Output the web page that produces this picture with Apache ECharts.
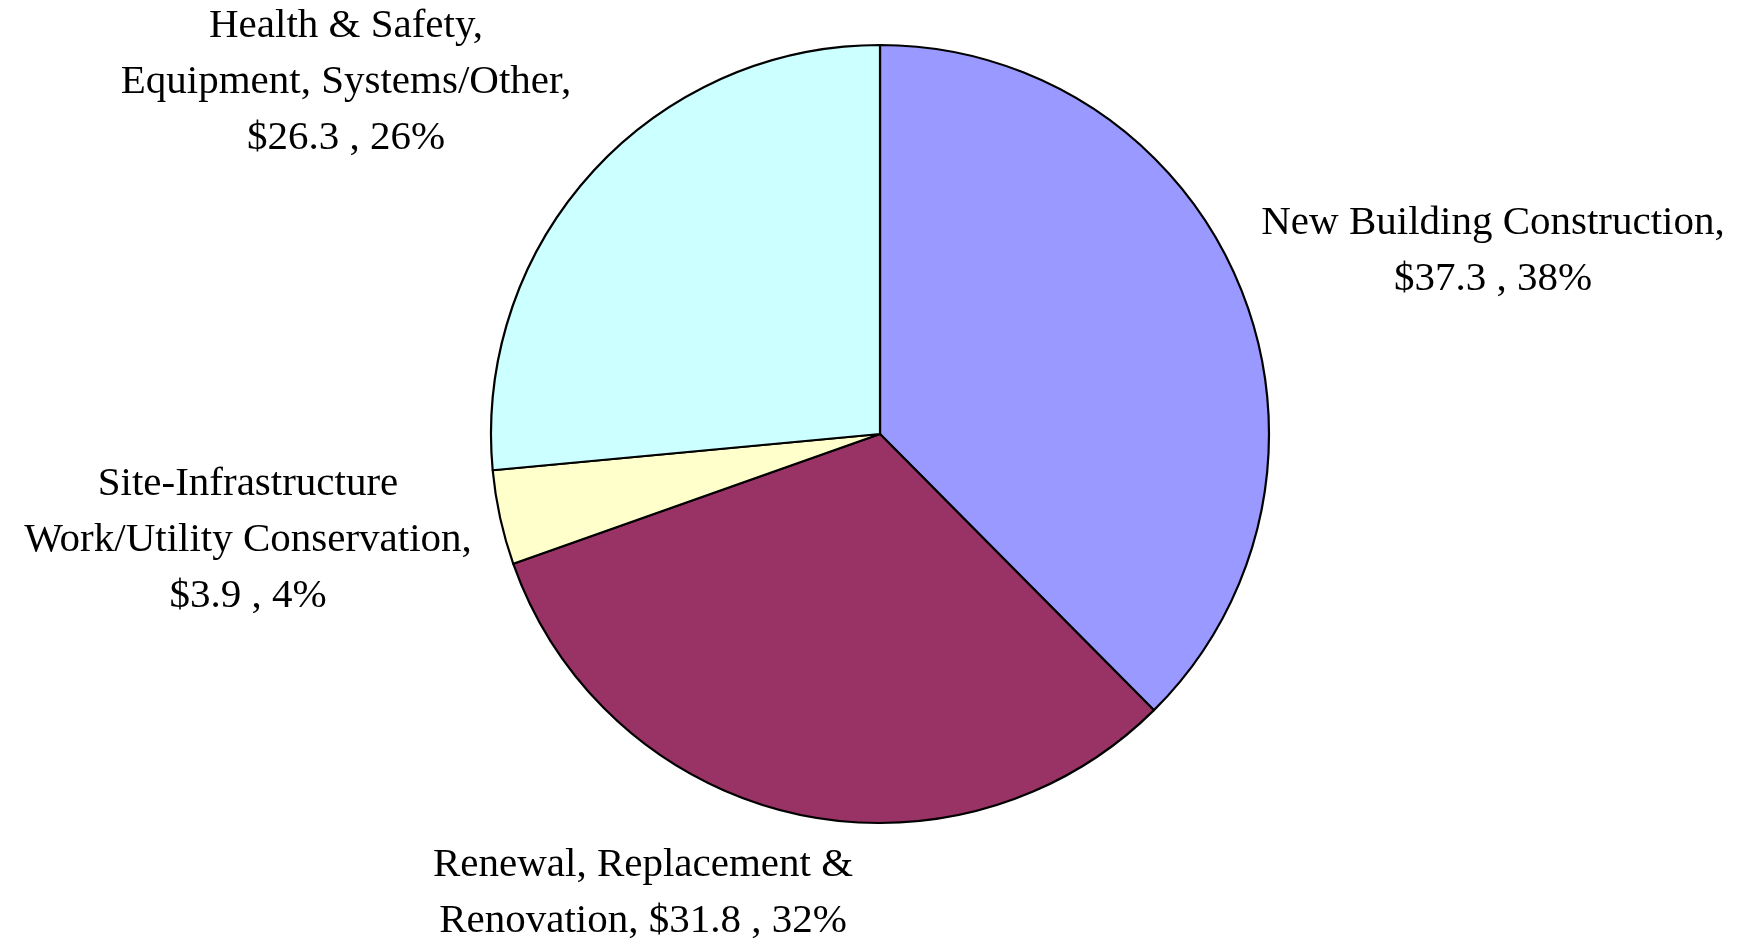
<!DOCTYPE html>
<html>
<head>
<meta charset="utf-8">
<script src="https://cdn.jsdelivr.net/npm/echarts@6/dist/echarts.min.js"></script>
<style>
  html, body { margin: 0; padding: 0; background: #ffffff; }
  #chart { width: 1746px; height: 939px; }
</style>
</head>
<body>
<div id="chart"></div>
<script>
// Data
const categories = [
  'New Building Construction,',
  'Renewal, Replacement &\nRenovation,',
  'Site-Infrastructure\nWork/Utility Conservation,',
  'Health & Safety,\nEquipment, Systems/Other,'
];
const values = [37.3, 31.8, 3.9, 26.3];
const colors = ['#9999FF', '#993366', '#FFFFCC', '#CCFFFF'];
const valueSeparator = ['\n', ' ', '\n', '\n'];

// Label layout (centers of label blocks, px)
const labelPos = [[1493, 251], [643, 893], [248, 540], [346, 82]];

const chart = echarts.init(document.getElementById('chart'), null, { renderer: 'canvas' });

chart.setOption({
  animation: false,
  backgroundColor: '#ffffff',
  series: [{
    type: 'pie',
    center: [880, 434],
    radius: [0, 389],
    startAngle: 90,
    clockwise: true,
    avoidLabelOverlap: false,
    data: categories.map((c, i) => ({
      name: c,
      value: values[i],
      itemStyle: { color: colors[i] }
    })),
    itemStyle: { borderColor: '#000000', borderWidth: 2.2 },
    emphasis: { disabled: true },
    label: {
      show: true,
      position: 'outside',
      fontFamily: 'Liberation Serif, serif',
      fontSize: 41,
      lineHeight: 56,
      color: '#000000',
      align: 'center',
      formatter: (p) => p.name + valueSeparator[p.dataIndex] + '$' + p.value.toFixed(1) + ' , ' + Math.round(p.percent) + '%'
    },
    labelLine: { show: false },
    labelLayout: (params) => ({
      x: labelPos[params.dataIndex][0],
      y: labelPos[params.dataIndex][1],
      align: 'center',
      verticalAlign: 'middle'
    })
  }]
});
</script>
</body>
</html>
